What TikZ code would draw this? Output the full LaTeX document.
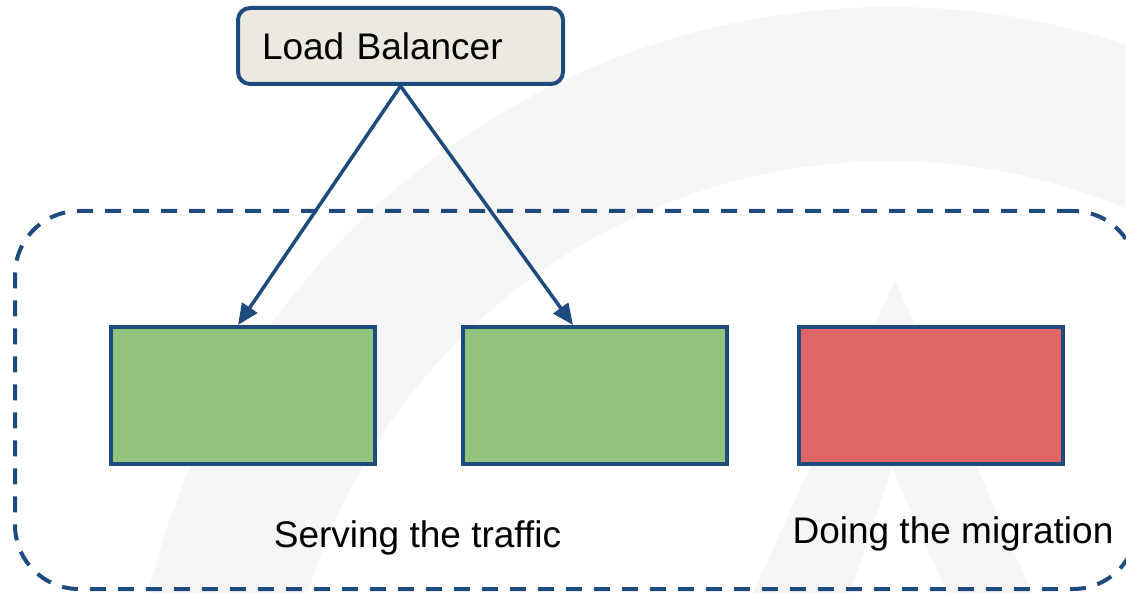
\documentclass[tikz,border=0pt]{standalone}
\usepackage{fontspec}
\setmainfont{Liberation Sans}
\usetikzlibrary{arrows.meta}
\definecolor{edge}{HTML}{1F4A7E}
\definecolor{lbfill}{HTML}{ECEAE0}
\definecolor{okgreen}{HTML}{93C47D}
\definecolor{migred}{HTML}{E06666}
\definecolor{wmgray}{HTML}{F6F6F6}
\tikzset{
  box/.style={draw=edge, line width=4pt, minimum width=264pt, minimum height=137pt, inner sep=0pt},
  lbbox/.style={draw=edge, fill=lbfill, line width=4pt, rounded corners=12pt,
    minimum height=76pt, text width=277pt, align=left, inner xsep=24pt, inner ysep=0pt,
    font=\fontsize{37}{40}\selectfont},
  group/.style={draw=edge, line width=4pt, dash pattern=on 16pt off 12pt, rounded corners=64pt,
    minimum width=1122pt, minimum height=378pt, inner sep=0pt},
  caption/.style={anchor=base, inner sep=0pt, font=\fontsize{37}{40}\selectfont},
  link/.style={draw=edge, line width=3.5pt, -{Triangle[length=21pt,width=18pt]}}
}
\begin{document}
\begin{tikzpicture}[x=1pt,y=-1pt]
\useasboundingbox (0,0) rectangle (1126,593);
\fill[white] (0,0) rectangle (1126,593);
% faint background watermark
\begin{scope}
\clip (0,0) rectangle (1126,593);
\fill[wmgray, even odd rule] (890,769) circle (762) (890,769) circle (608);
\fill[wmgray, even odd rule] (895,280) -- (1032,593) -- (753,593) -- cycle
  (892,468) -- (947,593) -- (850,593) -- cycle;
\end{scope}
% group
\node[group] (grp) at (576,400) {};
% boxes
\node[box, fill=okgreen] (s1) at (243,395.5) {};
\node[box, fill=okgreen] (s2) at (595,395.5) {};
\node[box, fill=migred] (s3) at (931,395.5) {};
% load balancer
\node[lbbox] (lb) at (400.5,46) {Load Balancer};
% connectors
\draw[link] (lb.south) -- ([xshift=-5pt]s1.north);
\draw[link] (lb.south) -- ([xshift=-22pt]s2.north);
% captions
\node[caption] (t1) at (417.5,547) {Serving the traffic};
\node[caption] (t2) at (953,543) {Doing the migration};
\end{tikzpicture}
\end{document}
